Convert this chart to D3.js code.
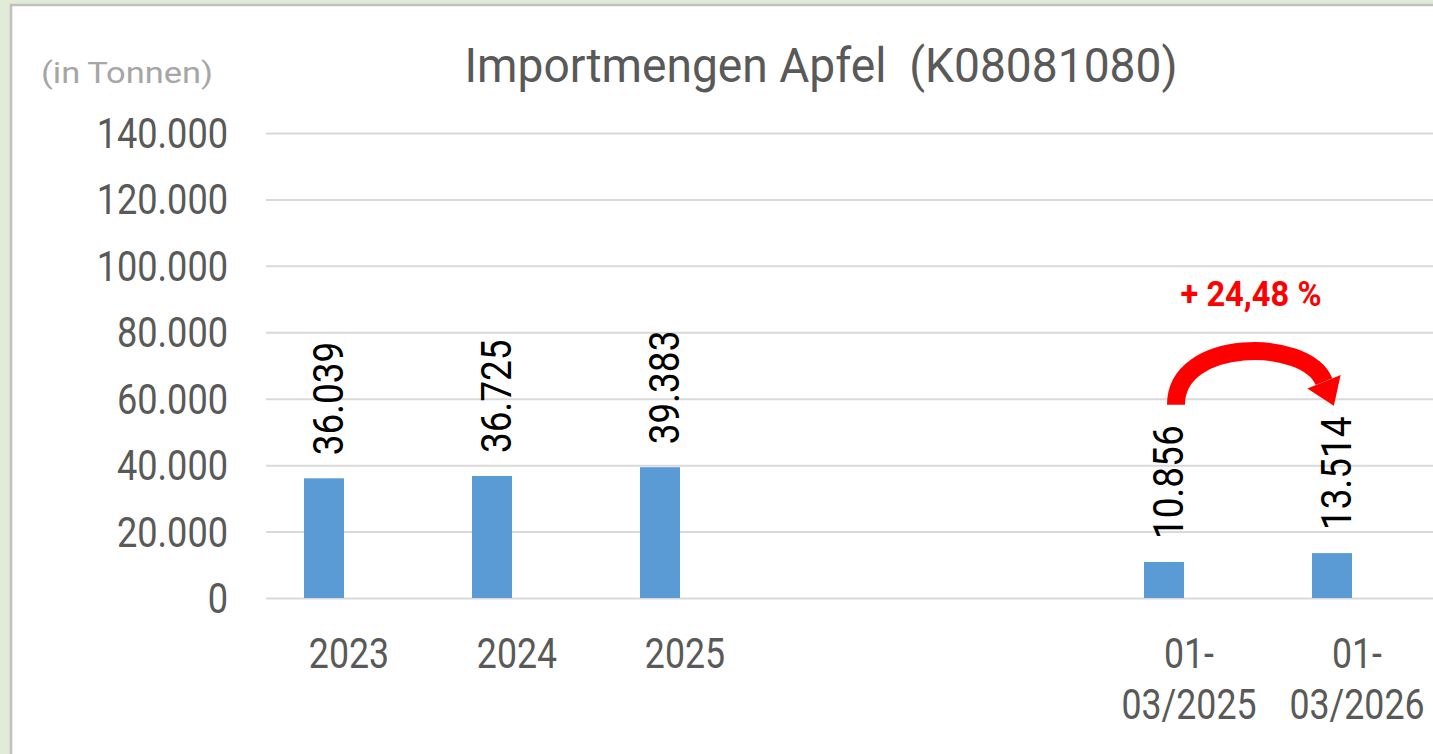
<!DOCTYPE html>
<html>
<head>
<meta charset="utf-8">
<script src="https://cdn.jsdelivr.net/npm/d3@7"></script>
<style>
  body { margin: 0; background: #e2ebd8; }
  svg { display: block; }
  .grid line { stroke: #d9d9d9; stroke-width: 2; }
  .grid path { display: none; }
  text { font-family: Roboto, "DejaVu Sans Condensed", sans-serif; }
</style>
</head>
<body>
<script>
var width = 1433, height = 754;

// data
var categories = ["2023", "2024", "2025", "gap1", "gap2", "01-|03/2025", "01-|03/2026"];
var values = [36039, 36725, 39383, null, null, 10856, 13514];
var valueLabels = ["36.039", "36.725", "39.383", "", "", "10.856", "13.514"];
var yTicks = [0, 20000, 40000, 60000, 80000, 100000, 120000, 140000];
var yTickLabels = ["0", "20.000", "40.000", "60.000", "80.000", "100.000", "120.000", "140.000"];
var changeLabel = "+ 24,48 %";
var title = "Importmengen Apfel\u00a0\u00a0(K08081080)";
var unit = "(in\u2009Tonnen)";

var svg = d3.select("body").append("svg")
    .attr("width", width)
    .attr("height", height);

// squeeze a text horizontally, the original font is a narrow DIN
function condense(sel, factor) {
    sel.each(function() {
        var w = this.getComputedTextLength();
        d3.select(this)
            .attr("textLength", w * factor)
            .attr("lengthAdjust", "spacingAndGlyphs");
    });
}

// frame
svg.append("rect")
    .attr("x", 11)
    .attr("y", 5)
    .attr("width", width + 20)
    .attr("height", height + 20)
    .attr("fill", "#ffffff")
    .attr("stroke", "#c0c0c0")
    .attr("stroke-width", 2.5);

var x = d3.scaleBand()
    .domain(categories)
    .range([265, 265 + 7 * 168]);

var y = d3.scaleLinear()
    .domain([0, 140000])
    .range([598, 133]);

var barW = 40, barShift = -25;
function barCenter(i) { return x(categories[i]) + x.bandwidth() / 2 + barShift; }

// gridlines
svg.append("g")
    .attr("class", "grid")
    .attr("transform", "translate(266,0)")
    .call(d3.axisLeft(y).tickValues(yTicks).tickSize(-(width - 266)).tickFormat(""));

// y labels
svg.selectAll(".ylab")
    .data(yTicks)
    .enter().append("text")
    .attr("class", "ylab")
    .attr("x", 228)
    .attr("y", function(d) { return y(d) + 15; })
    .attr("text-anchor", "end")
    .attr("fill", "#595959")
    .style("font-size", "42px")
    .text(function(d, i) { return yTickLabels[i]; })
    .call(condense, 0.86);

// bars
var barData = values.map(function(v, i) { return {v: v, i: i}; })
    .filter(function(d) { return d.v != null; });

svg.selectAll(".bar")
    .data(barData)
    .enter().append("rect")
    .attr("class", "bar")
    .attr("x", function(d) { return barCenter(d.i) - barW / 2; })
    .attr("width", barW)
    .attr("y", function(d) { return y(d.v); })
    .attr("height", function(d) { return y(0) - y(d.v); })
    .attr("fill", "#5b9bd5");

// value labels, rotated
svg.selectAll(".vlab")
    .data(barData)
    .enter().append("text")
    .attr("class", "vlab")
    .attr("transform", function(d) {
        return "translate(" + (barCenter(d.i) + 19) + "," + (y(d.v) - 23) + ") rotate(-90)";
    })
    .attr("fill", "#000000")
    .style("font-size", "42px")
    .text(function(d) { return valueLabels[d.i]; })
    .call(condense, 0.88);

// x labels, one text per line
var xLines = [];
categories.forEach(function(c) {
    if (c.indexOf("gap") == 0) return;
    c.split("|").forEach(function(s, j) { xLines.push({c: c, s: s, j: j}); });
});

svg.selectAll(".xlab")
    .data(xLines)
    .enter().append("text")
    .attr("class", "xlab")
    .attr("x", function(d) { return x(d.c) + x.bandwidth() / 2; })
    .attr("y", function(d) { return 668 + d.j * 51; })
    .attr("text-anchor", "middle")
    .attr("fill", "#595959")
    .style("font-size", "42px")
    .text(function(d) { return d.s; })
    .call(condense, 0.85);

// title + unit
svg.append("text")
    .attr("x", 821)
    .attr("y", 82)
    .attr("text-anchor", "middle")
    .attr("fill", "#595959")
    .style("font-size", "49px")
    .text(title)
    .attr("textLength", 713)
    .attr("lengthAdjust", "spacingAndGlyphs");

svg.append("text")
    .attr("x", 41)
    .attr("y", 83)
    .attr("fill", "#a6a6a6")
    .style("font-size", "30px")
    .text(unit)
    .attr("textLength", 172)
    .attr("lengthAdjust", "spacingAndGlyphs");

// change arrow between the two period bars
var arrowY = 58200;
var x0 = barCenter(5) + 12, y0 = y(arrowY);
var ex = barCenter(6) - 8, ey = y(arrowY) - 23;
var c1 = [x0, y0 - 67], c2 = [ex - 18, ey - 44];
var path = d3.path();
path.moveTo(x0, y0);
path.bezierCurveTo(c1[0], c1[1], c2[0], c2[1], ex, ey);

svg.append("path")
    .attr("d", path.toString())
    .attr("fill", "none")
    .attr("stroke", "#ff0000")
    .attr("stroke-width", 18);

var dx = ex - c2[0], dy = ey - c2[1], len = Math.sqrt(dx * dx + dy * dy);
dx /= len; dy /= len;
var head = [
    [ex + dx * 26, ey + dy * 26],
    [ex - dy * 18, ey + dx * 18],
    [ex + dy * 18, ey - dx * 18]
];
svg.append("path")
    .attr("d", "M" + head.join("L") + "Z")
    .attr("fill", "#ff0000");

svg.append("text")
    .attr("x", (barCenter(5) + barCenter(6)) / 2 + 3)
    .attr("y", 306)
    .attr("text-anchor", "middle")
    .attr("fill", "#ff0000")
    .style("font-size", "35px")
    .style("font-weight", "bold")
    .text(changeLabel)
    .attr("textLength", 141)
    .attr("lengthAdjust", "spacingAndGlyphs");
</script>
</body>
</html>
